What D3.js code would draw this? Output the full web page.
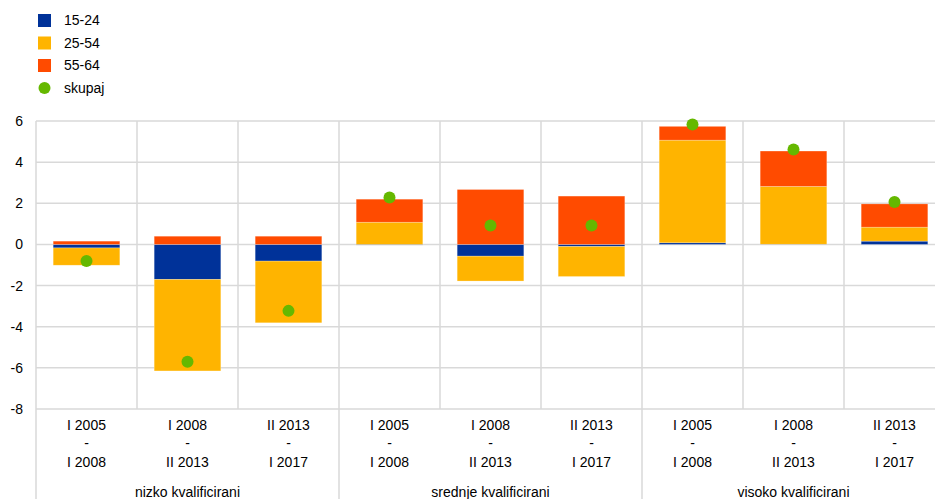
<!DOCTYPE html>
<html>
<head>
<meta charset="utf-8">
<script src="https://cdn.jsdelivr.net/npm/d3@7"></script>
<style>
  body { margin: 0; background: #fff; }
  svg { display: block; font-family: "Liberation Sans", Arial, sans-serif; }
</style>
</head>
<body>
<div id="chart"></div>
<script>
// categories (period) and groups
const periods = [
  ["I 2005", "-", "I 2008"],
  ["I 2008", "-", "II 2013"],
  ["II 2013", "-", "I 2017"],
  ["I 2005", "-", "I 2008"],
  ["I 2008", "-", "II 2013"],
  ["II 2013", "-", "I 2017"],
  ["I 2005", "-", "I 2008"],
  ["I 2008", "-", "II 2013"],
  ["II 2013", "-", "I 2017"]
];
const groups = ["nizko kvalificirani", "srednje kvalificirani", "visoko kvalificirani"];

// series values
const age1524 = [-0.17, -1.70, -0.81, -0.03, -0.57, -0.10, 0.08, 0.01, 0.16];
const age2554 = [-0.84, -4.45, -3.00, 1.08, -1.21, -1.46, 4.99, 2.81, 0.68];
const age5564 = [0.16, 0.40, 0.40, 1.12, 2.67, 2.35, 0.67, 1.72, 1.13];
const skupaj = [-0.81, -5.70, -3.23, 2.28, 0.92, 0.92, 5.83, 4.62, 2.06];

const seriesNames = ["15-24", "25-54", "55-64"];
const colors = ["#003299", "#FFB400", "#FF4B00"];
const dotColor = "#65B800";
const yTicks = [6, 4, 2, 0, -2, -4, -6, -8];

const width = 935, height = 499;
const svg = d3.select("#chart").append("svg")
  .attr("width", width).attr("height", height);

const x = d3.scaleBand().domain(d3.range(periods.length)).range([36, 945]).padding(0);
const y = d3.scaleLinear().domain([-8, 6]).range([409, 121]);

const rows = periods.map((p, i) => ({
  i, "15-24": age1524[i], "25-54": age2554[i], "55-64": age5564[i]
}));
const stack = d3.stack().keys(seriesNames).offset(d3.stackOffsetDiverging);
const stacked = stack(rows);

const grid = "#d9d9d9";

// horizontal gridlines
svg.append("g").selectAll("line").data(yTicks).join("line")
  .attr("x1", 36).attr("x2", 945)
  .attr("y1", d => y(d)).attr("y2", d => y(d))
  .attr("stroke", grid).attr("stroke-width", 1.5);

// vertical gridlines within plot
svg.append("g").selectAll("line").data(d3.range(periods.length + 1)).join("line")
  .attr("x1", d => 36 + d * x.bandwidth()).attr("x2", d => 36 + d * x.bandwidth())
  .attr("y1", y(6)).attr("y2", d => d % 3 === 0 ? height : y(-8))
  .attr("stroke", grid).attr("stroke-width", 1.5);

// bars
const barW = x.bandwidth() * 0.66;
svg.append("g").selectAll("g").data(stacked).join("g")
  .attr("fill", (d, i) => colors[i])
  .selectAll("rect").data(d => d).join("rect")
  .attr("x", d => x(d.data.i) + (x.bandwidth() - barW) / 2)
  .attr("width", barW)
  .attr("y", d => y(Math.max(d[0], d[1])))
  .attr("height", d => Math.abs(y(d[0]) - y(d[1])))
  .attr("stroke", "#fff").attr("stroke-opacity", 0.4).attr("stroke-width", 0.6);

// total dots
svg.append("g").selectAll("circle").data(skupaj).join("circle")
  .attr("cx", (d, i) => x(i) + x.bandwidth() / 2)
  .attr("cy", d => y(d))
  .attr("r", 6)
  .attr("fill", dotColor);

// y axis labels
svg.append("g").selectAll("text").data(yTicks).join("text")
  .attr("x", 23).attr("y", d => y(d) + 5)
  .attr("text-anchor", "end")
  .attr("font-size", 14).attr("fill", "#000")
  .text(d => d);

// category labels
const catG = svg.append("g").selectAll("g").data(periods).join("g")
  .attr("transform", (d, i) => `translate(${x(i) + x.bandwidth() / 2},0)`);
[430, 448, 467].forEach((yy, k) => {
  catG.append("text")
    .attr("y", yy).attr("text-anchor", "middle")
    .attr("font-size", 14).attr("fill", "#000")
    .text(d => d[k]);
});

// group labels
svg.append("g").selectAll("text").data(groups).join("text")
  .attr("x", (d, i) => x(i * 3) + x.bandwidth() * 1.5)
  .attr("y", 497).attr("text-anchor", "middle")
  .attr("font-size", 14).attr("fill", "#000")
  .text(d => d);

// legend
const legend = svg.append("g");
seriesNames.forEach((s, i) => {
  legend.append("rect")
    .attr("x", 38).attr("y", 14 + i * 22.5).attr("width", 13).attr("height", 13)
    .attr("fill", colors[i]);
  legend.append("text")
    .attr("x", 64).attr("y", 25 + i * 22.5)
    .attr("font-size", 14).attr("fill", "#000").text(s);
});
legend.append("circle")
  .attr("cx", 44.5).attr("cy", 88).attr("r", 6).attr("fill", dotColor);
legend.append("text")
  .attr("x", 64).attr("y", 92.5)
  .attr("font-size", 14).attr("fill", "#000").text("skupaj");
</script>
</body>
</html>
